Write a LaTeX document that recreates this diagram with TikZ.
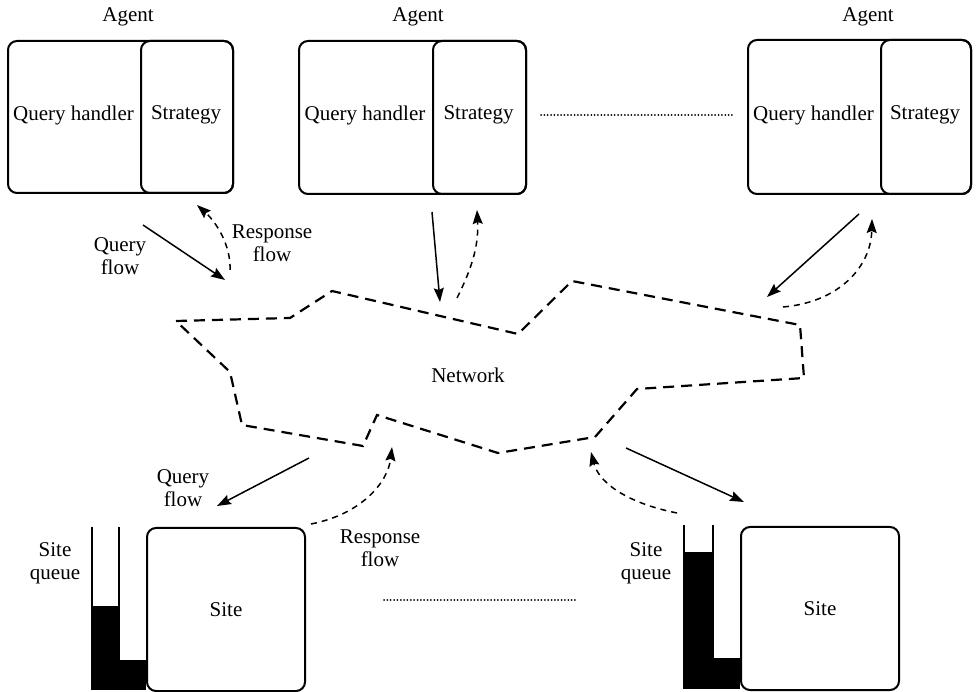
\documentclass[tikz,border=0pt]{standalone}
\usepackage{fontspec}
\setmainfont{Liberation Serif}
\usetikzlibrary{arrows.meta}
\begin{document}
\begin{tikzpicture}[x=1pt,y=-1pt,
  box/.style={draw, line width=2pt, rounded corners=9pt, inner sep=0pt},
  flow/.style={line width=1.5pt, -{Stealth[length=14pt,width=10pt,inset=2pt]}},
  resp/.style={flow, dash pattern=on 6pt off 5pt},
  net/.style={line width=2.2pt, dash pattern=on 11pt off 7pt},
  dots/.style={line width=2pt, line cap=round, dash pattern=on 0pt off 3.35pt},
  lbl/.style={font=\fontsize{21}{23}\selectfont, align=center, inner sep=0pt},
  queueline/.style={line width=2pt},
]
\useasboundingbox (0,0) rectangle (978,692);

% ---------- Agents ----------
\node[box, anchor=north west, minimum width=225pt, minimum height=152pt] (a1) at (7,40) {};
\node[box, anchor=north east, minimum width=92pt, minimum height=152pt] (s1) at (a1.north east) {};
\node[lbl] (qh1) at (73.5,115) {Query handler};
\node[lbl] (st1) at (186,115) {Strategy};
\node[lbl] (ag1) at (128,17) {Agent};

\node[box, anchor=north west, minimum width=227pt, minimum height=153pt] (a2) at (298,40) {};
\node[box, anchor=north east, minimum width=93pt, minimum height=153pt] (s2) at (a2.north east) {};
\node[lbl] (qh2) at (365,115) {Query handler};
\node[lbl] (st2) at (478.5,115) {Strategy};
\node[lbl] (ag2) at (418,17) {Agent};

\node[box, anchor=north west, minimum width=223pt, minimum height=154pt] (a3) at (747,39) {};
\node[box, anchor=north east, minimum width=90pt, minimum height=154pt] (s3) at (a3.north east) {};
\node[lbl] (qh3) at (813.5,115) {Query handler};
\node[lbl] (st3) at (925,115) {Strategy};
\node[lbl] (ag3) at (868,17) {Agent};

\coordinate (dA) at (541,115);
\coordinate (dB) at (735,115);
\draw[dots] (dA) -- (dB);

% ---------- Network ----------
\draw[net] (176,321) -- (290,318) -- (332,291) -- (518,334) -- (572,281)
  -- (800,325) -- (804,378) -- (637,389) -- (595,437) -- (498,453)
  -- (377,415) -- (363,446) -- (242,425) -- (230,372) -- cycle;
\node[lbl] (net) at (468,375) {Network};

% ---------- Sites ----------
\node[box, anchor=north west, minimum width=158pt, minimum height=163pt] (site1) at (146,527) {};
\node[lbl] at (site1.center) {Site};
\fill (92,606) rectangle (119,690);
\fill (119,660) rectangle (146,690);
\draw[queueline] (92,527) -- (92,690);
\draw[queueline] (119,527) -- (119,660);
\node[lbl] (sq1) at (55,563) {Site\\queue};

\node[box, anchor=north west, minimum width=158pt, minimum height=163pt] (site2) at (740,526) {};
\node[lbl] at (site2.center) {Site};
\fill (684,552) rectangle (713,689);
\fill (713,658) rectangle (740,689);
\draw[queueline] (684,525) -- (684,689);
\draw[queueline] (713,525) -- (713,658);
\node[lbl] (sq2) at (646,563) {Site\\queue};

\coordinate (dC) at (384,600);
\coordinate (dD) at (578,600);
\draw[dots] (dC) -- (dD);

% ---------- Flows ----------
\coordinate (q1s) at (143,225); \coordinate (q1e) at (225,280);
\coordinate (r1s) at (230,270); \coordinate (r1e) at (197,205);
\draw[flow] (q1s) -- (q1e);
\draw[resp] (r1s) .. controls (231,245) and (216,222) .. (r1e);
\node[lbl] at (120,256) {Query\\flow};
\node[lbl] at (272,243) {Response\\flow};

\coordinate (q2s) at (432,212); \coordinate (q2e) at (440,302);
\coordinate (r2s) at (457,298); \coordinate (r2e) at (477,210);
\draw[flow] (q2s) -- (q2e);
\draw[resp] (r2s) .. controls (470,272) and (479,248) .. (r2e);

\coordinate (q3s) at (859,214); \coordinate (q3e) at (767,297);
\coordinate (r3s) at (783,307); \coordinate (r3e) at (872,219);
\draw[flow] (q3s) -- (q3e);
\draw[resp] (r3s) .. controls (840,302) and (871,266) .. (r3e);

\coordinate (q4s) at (309,458); \coordinate (q4e) at (217,506);
\coordinate (r4s) at (311,524); \coordinate (r4e) at (392,447);
\draw[flow] (q4s) -- (q4e);
\draw[resp] (r4s) .. controls (362,514) and (388,482) .. (r4e);
\node[lbl] at (183,488) {Query\\flow};
\node[lbl] at (380,548) {Response\\flow};

\coordinate (q5s) at (626,448); \coordinate (q5e) at (744,502);
\coordinate (r5s) at (677,513); \coordinate (r5e) at (591,452);
\draw[flow] (q5s) -- (q5e);
\draw[resp] (r5s) .. controls (622,502) and (598,480) .. (r5e);
\end{tikzpicture}
\end{document}
